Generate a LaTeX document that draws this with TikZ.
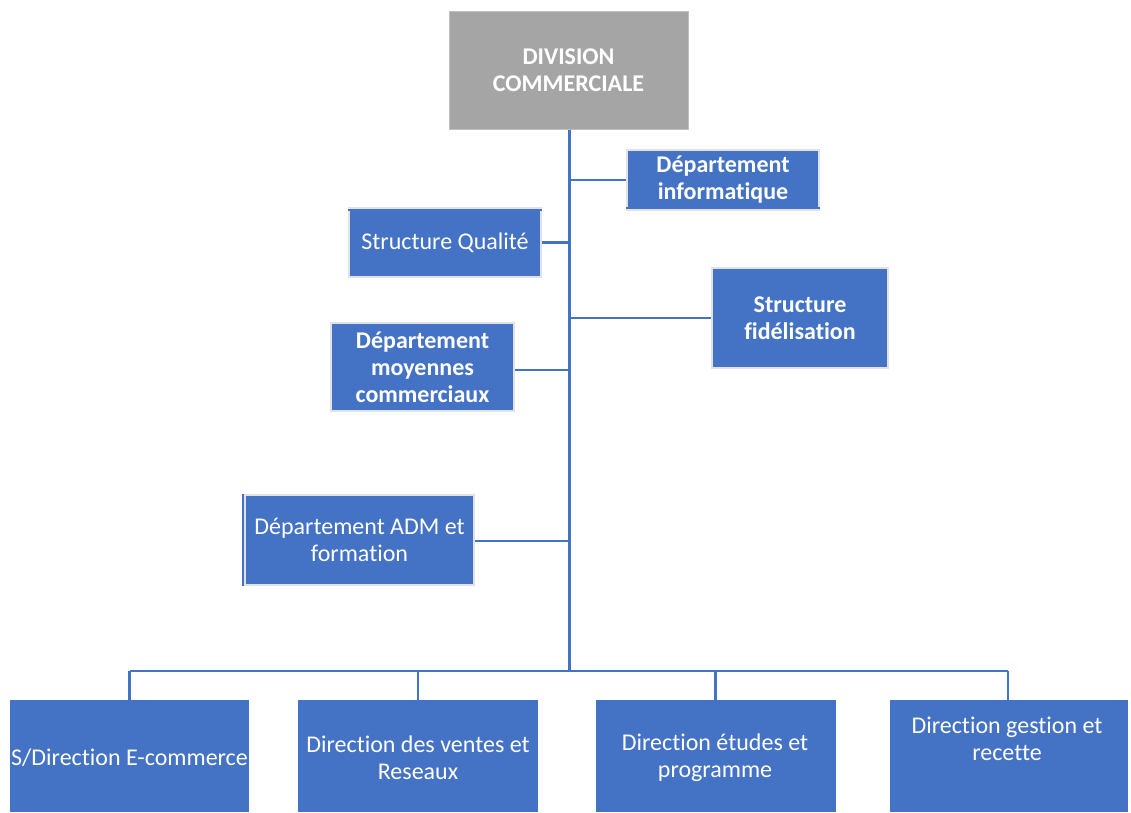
\documentclass[tikz,border=0pt]{standalone}
\usepackage{fontspec}
\setmainfont{Carlito}[Ligatures=NoCommon]
\definecolor{orgblue}{HTML}{4472C4}
\definecolor{orggray}{HTML}{A5A5A5}
\definecolor{edgegray}{HTML}{E2E2E2}
\newcommand{\boxfont}{\fontsize{24}{27}\selectfont}
\begin{document}
\begin{tikzpicture}[x=1pt,y=-1pt,
  unit/.style={rectangle,fill=orgblue,text=white,align=center,inner sep=0pt,font=\boxfont},
  boldunit/.style={unit,font=\boxfont\bfseries},
  rim/.style={draw=edgegray,line width=1.6pt},
  headbox/.style={rectangle,fill=orggray,draw=orggray!70!white,line width=1pt,text=white,
    align=center,inner sep=0pt,font=\fontsize{24}{27}\selectfont\bfseries},
  link/.style={draw=orgblue,line width=2.4pt},
  trunk/.style={draw=orgblue,line width=3pt},
  label/.style={text=white,align=center,inner sep=0pt,font=\boxfont}]
\useasboundingbox (0,0) rectangle (1131,812);

% head of the division
\node[headbox,minimum width=239pt,minimum height=118pt] (top) at (568.5,70) {DIVISION\\COMMERCIALE};

% side units
\node[boldunit,rim,minimum width=192pt,minimum height=60pt] (info) at (723,180) {Département\\informatique};
\node[unit,rim,minimum width=192pt,minimum height=69pt] (qual) at (445,242.5) {Structure Qualité};
\node[boldunit,rim,minimum width=176pt,minimum height=100pt] (fid) at (800,318) {Structure\\fidélisation};
\node[boldunit,rim,minimum width=183pt,minimum height=88pt] (moy) at (422.5,367) {Département\\moyennes\\commerciaux};
\node[unit,rim,minimum width=229pt,minimum height=90pt] (adm) at (359.5,540) {Département ADM et\\formation};

% accent strokes along some box edges
\draw[orgblue,line width=2pt] ([yshift=2.5pt]info.south west) -- ([yshift=2.5pt]info.south east);
\draw[orgblue,line width=2pt] ([yshift=-2.5pt]qual.north west) -- ([yshift=-2.5pt]qual.north east);
\draw[orgblue,line width=2pt] ([xshift=-1.5pt]adm.north west) -- ([xshift=-1.5pt]adm.south west);

% directions at the bottom
\node[unit,minimum width=239pt,minimum height=112pt,anchor=north] (dir1) at (129.5,700) {};
\node[unit,minimum width=240pt,minimum height=112pt,anchor=north] (dir2) at (418,700) {};
\node[unit,minimum width=240pt,minimum height=112pt,anchor=north] (dir3) at (715.5,700) {};
\node[unit,minimum width=238pt,minimum height=112pt,anchor=north] (dir4) at (1009,700) {};
\node[label] (dir1t) at (129.5,758) {S/Direction E-commerce};
\node[label] (dir2t) at (418,758) {Direction des ventes et\\Reseaux};
\node[label] (dir3t) at (715,758) {Direction études et\\programme};
\node[label] (dir4t) at (1007,739) {Direction gestion et\\recette};

% trunk and bus
\coordinate (bus) at (569,671);
\coordinate (busL) at (129.5,671);
\coordinate (busR) at (1008,671);
\draw[trunk] (top.south -| bus) -- (bus);
\draw[link] (busL) -- (busR);
\draw[link] (busL) -- ([yshift=-3pt]dir1.north);
\draw[link] (dir2.north |- bus) -- ([yshift=-3pt]dir2.north);
\draw[link] (dir3.north |- bus) -- ([yshift=-3pt]dir3.north);
\draw[link] (busR) -- ([yshift=-3pt]dir4.north -| busR);

% branches off the trunk
\draw[link] (bus |- info.west) -- (info.west);
\draw[link] (qual.east) -- (qual.east -| bus);
\draw[link] (bus |- fid.west) -- (fid.west);
\draw[link] ([yshift=-3pt]moy.east) -- ([yshift=-3pt]moy.east -| bus);
\draw[link] ([yshift=-1pt]adm.east) -- ([yshift=-1pt]adm.east -| bus);
\end{tikzpicture}
\end{document}
